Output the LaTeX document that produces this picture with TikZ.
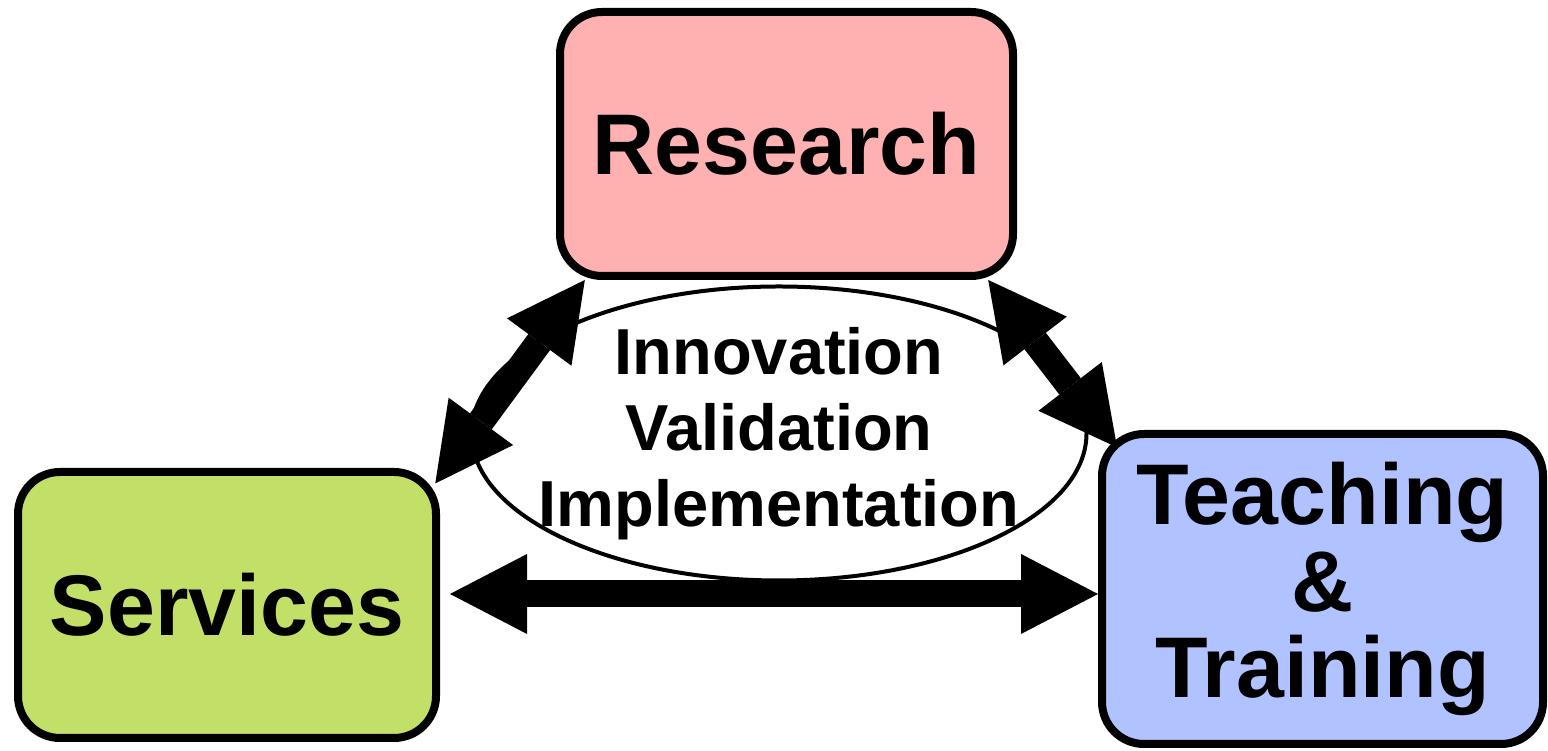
\documentclass[tikz,border=0pt]{standalone}
\usepackage{fontspec}
\setmainfont{Liberation Sans}
\usepackage{tikz}
\usetikzlibrary{positioning,shapes.geometric,arrows.meta,calc}
\definecolor{researchpink}{RGB}{255,176,176}
\definecolor{servicegreen}{RGB}{194,224,104}
\definecolor{teachblue}{RGB}{176,194,255}

\begin{document}
\begin{tikzpicture}[
    box/.style={draw, line width=0.08cm, rounded corners=0.42cm, align=center,
        font=\bfseries\fontsize{24.5}{24.5}\selectfont},
    hub/.style={draw, ellipse, line width=0.04cm, inner sep=0pt},
    bigarrow/.style={line width=0.27cm,
        {Triangle[length=0.77cm, width=0.8cm, line width=0pt]}-{Triangle[length=0.77cm, width=0.8cm, line width=0pt]}}
]
    \useasboundingbox (0,0) rectangle (15.48,7.51);

    % Centre ellipse with the three steps.
    \node[hub, minimum width=6.15cm, minimum height=2.94cm] (core) at (7.79,3.175) {};
    \node[align=center, font=\bfseries\fontsize{18.5}{21.6}\selectfont] (steps) at (core)
        {Innovation\\Validation\\Implementation};

    % The three boxes.
    \node[box, fill=researchpink, minimum width=4.53cm, minimum height=2.64cm] (research) at (7.865,6.07) {Research};
    \node[box, fill=servicegreen, minimum width=4.18cm, minimum height=2.66cm] (services) at (2.27,1.46) {Services};
    \node[box, fill=teachblue, minimum width=4.41cm, minimum height=3.10cm] (teaching) at (13.225,1.62) {Teaching\\\&\\Training};

    \coordinate (hl) at ($(services.east)+(0.1,0.11)$);
    \coordinate (hr) at (teaching.west |- hl);

    \draw[bigarrow, shorten <=-0.08cm] (services.31) -- (research.214);
    \draw[bigarrow, shorten >=-0.22cm] (research.-34.6) -- (teaching.144.9);
    \draw[bigarrow] (hl) -- (hr);
\end{tikzpicture}
\end{document}
